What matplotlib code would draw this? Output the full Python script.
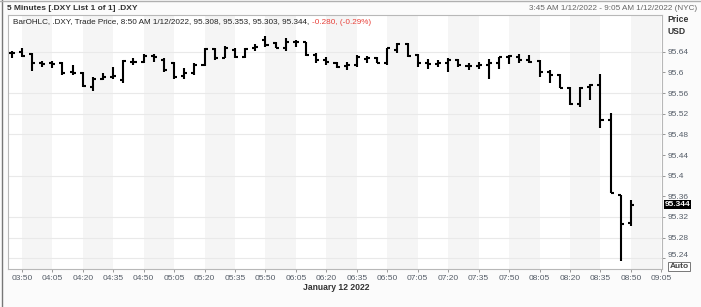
import matplotlib
matplotlib.use('Agg')
import matplotlib.pyplot as plt
import matplotlib.dates as mdates
import matplotlib.transforms as mtransforms
from matplotlib.lines import Line2D
import pandas as pd

# ---------------- data ----------------
start_time = '2022-01-12 03:45'
bar_minutes = 5
opens = [95.637, 95.640, 95.635, 95.618, 95.618, 95.618, 95.601, 95.599, 95.571, 95.588,
         95.592, 95.585, 95.621, 95.621, 95.632, 95.624, 95.618, 95.593, 95.598, 95.614,
         95.645, 95.627, 95.643, 95.630, 95.648, 95.663, 95.656, 95.647, 95.659, 95.658,
         95.634, 95.624, 95.618, 95.612, 95.614, 95.625, 95.627, 95.618, 95.643, 95.655,
         95.634, 95.618, 95.617, 95.618, 95.624, 95.612, 95.612, 95.614, 95.619, 95.629,
         95.630, 95.624, 95.622, 95.601, 95.594, 95.570, 95.538, 95.572, 95.576, 95.508,
         95.363, 95.308]
highs = [95.642, 95.647, 95.637, 95.623, 95.623, 95.621, 95.614, 95.601, 95.592, 95.598,
         95.610, 95.624, 95.627, 95.636, 95.636, 95.627, 95.621, 95.608, 95.618, 95.647,
         95.648, 95.651, 95.647, 95.647, 95.655, 95.670, 95.659, 95.666, 95.663, 95.659,
         95.637, 95.630, 95.621, 95.621, 95.634, 95.632, 95.630, 95.648, 95.656, 95.656,
         95.636, 95.625, 95.624, 95.627, 95.625, 95.619, 95.621, 95.625, 95.630, 95.634,
         95.635, 95.634, 95.624, 95.605, 95.596, 95.572, 95.572, 95.577, 95.596, 95.521,
         95.363, 95.353]
lows = [95.627, 95.629, 95.603, 95.611, 95.608, 95.595, 95.595, 95.572, 95.563, 95.585,
        95.587, 95.579, 95.614, 95.618, 95.621, 95.601, 95.588, 95.588, 95.595, 95.612,
        95.624, 95.627, 95.627, 95.627, 95.642, 95.650, 95.647, 95.642, 95.650, 95.632,
        95.618, 95.614, 95.608, 95.605, 95.610, 95.619, 95.619, 95.614, 95.637, 95.630,
        95.610, 95.606, 95.610, 95.601, 95.611, 95.605, 95.606, 95.588, 95.606, 95.617,
        95.618, 95.618, 95.592, 95.579, 95.569, 95.537, 95.532, 95.546, 95.492, 95.366,
        95.235, 95.303]
closes = [95.637, 95.632, 95.618, 95.617, 95.616, 95.598, 95.599, 95.574, 95.588, 95.592,
          95.593, 95.622, 95.621, 95.632, 95.630, 95.605, 95.592, 95.598, 95.614, 95.645,
          95.627, 95.647, 95.630, 95.645, 95.650, 95.653, 95.648, 95.659, 95.658, 95.634,
          95.624, 95.621, 95.611, 95.614, 95.629, 95.627, 95.619, 95.647, 95.655, 95.632,
          95.618, 95.617, 95.618, 95.624, 95.614, 95.612, 95.614, 95.619, 95.629, 95.631,
          95.624, 95.621, 95.601, 95.595, 95.570, 95.538, 95.569, 95.576, 95.508, 95.366,
          95.306, 95.344]
y_ticks = [95.24, 95.28, 95.32, 95.36, 95.40, 95.44, 95.48, 95.52, 95.56, 95.60, 95.64]
grid_levels = [95.24, 95.28, 95.32, 95.40, 95.48, 95.52, 95.56, 95.64]
title_text = '5 Minutes [.DXY List 1 of 1] .DXY'
range_text = '3:45 AM 1/12/2022 - 9:05 AM 1/12/2022 (NYC)'
legend_text = 'BarOHLC, .DXY, Trade Price, 8:50 AM 1/12/2022, 95.308, 95.353, 95.303, 95.344, '
change_text = '-0.280, (-0.29%)'
date_label = 'January 12 2022'

# ---------------- figure ----------------
W, H = 701, 307
fig = plt.figure(figsize=(W / 100, H / 100), dpi=100)
fig.patch.set_facecolor('#fbfbfb')
FONT = ['Liberation Sans', 'DejaVu Sans']
plt.rcParams['font.family'] = FONT

def px(x, y):
    return x / W, 1 - y / H

ax_l, ax_r, ax_t, ax_b = 8, 662, 15, 269
ax = fig.add_axes([ax_l / W, 1 - ax_b / H, (ax_r - ax_l) / W, (ax_b - ax_t) / H])
ax.set_facecolor('white')

times = pd.date_range(start_time, periods=len(opens), freq=f'{bar_minutes}min')
xt = mdates.date2num(times.to_pydatetime())
one_min = 1 / 1440.0
t0 = xt[0]
ax.set_xlim(t0 - 1.8 * one_min, t0 + 320.3 * one_min)
ax.set_ylim(95.2193, 95.7111)

# alternating bands every 15 min starting 03:50
band_start = mdates.date2num(pd.Timestamp('2022-01-12 03:50').to_pydatetime())
b = band_start
while b < t0 + 330 * one_min:
    ax.axvspan(b, b + 15 * one_min, color='#f5f5f5', lw=0, zorder=0)
    b += 30 * one_min
for g in grid_levels:
    ax.axhline(g, color='#e9e9e9', lw=0.8, zorder=0.5)

# OHLC bars
tick_w = 1.5 * one_min
lw = 1.5
ax.vlines(xt, lows, highs, color='black', lw=lw, zorder=3, capstyle='butt')
ax.hlines(opens, xt - tick_w, xt, color='black', lw=lw, zorder=3)
ax.hlines(closes, xt, xt + tick_w, color='black', lw=lw, zorder=3)

# axes styling
for s in ax.spines.values():
    s.set_color('#b8b8b8')
    s.set_linewidth(0.8)
ax.yaxis.tick_right()
ax.set_yticks(y_ticks)
ax.set_yticklabels([f'{v:g}' for v in y_ticks])
ax.tick_params(axis='y', length=2.5, width=0.6, color='#888888', pad=1.5,
               labelsize=6, labelcolor='#555d68')
ax.xaxis.set_major_locator(mdates.MinuteLocator(byminute=[5, 20, 35, 50]))
ax.xaxis.set_major_formatter(mdates.DateFormatter('%H:%M'))
ax.tick_params(axis='x', length=2.5, width=0.6, color='#888888', pad=1.5,
               labelsize=6, labelcolor='#555d68')
# lowest price label is nudged up to clear the "Auto" button
lowest_lbl = ax.get_yticklabels()[0]
lowest_lbl.set_transform(lowest_lbl.get_transform() +
                         mtransforms.ScaledTranslation(0, 4 / 100, fig.dpi_scale_trans))

# last price marker
ax.text(1.004, closes[-1], f'{closes[-1]:.3f}', transform=ax.get_yaxis_transform(),
        ha='left', va='center', fontsize=6, fontweight='bold', color='white',
        bbox=dict(boxstyle='square,pad=0.12', fc='black', ec='none'), zorder=10, clip_on=False)

# header texts
fig.text(*px(7, 8), title_text, ha='left', va='center', fontsize=6.0, fontweight='bold', color='#333333')
fig.text(*px(697, 9), range_text, ha='right', va='center', fontsize=5.9, color='#666666')
t1 = fig.text(*px(13, 22), legend_text, ha='left', va='center', fontsize=5.9, color='#222222')
fig.canvas.draw()
bb = t1.get_window_extent(renderer=fig.canvas.get_renderer())
fig.text(bb.x1 / W, 1 - 22 / H, change_text, ha='left', va='center', fontsize=5.9, color='#e8413a')

fig.text(*px(667, 20), 'Price', ha='left', va='center', fontsize=6.2, fontweight='bold', color='#333333')
fig.text(*px(667, 31), 'USD', ha='left', va='center', fontsize=6.2, fontweight='bold', color='#333333')
fig.text(*px(336, 287), date_label, ha='center', va='center', fontsize=6.2, fontweight='bold', color='#333333')
fig.text(*px(679, 266), 'Auto', ha='center', va='center', fontsize=6.0, fontweight='bold', color='#444444',
         bbox=dict(boxstyle='square,pad=0.12', fc='white', ec='#777777', lw=0.7))

# outer borders
fig.add_artist(Line2D([2 / W, 2 / W], [0, 1], color='#777777', lw=1.0, transform=fig.transFigure))
fig.add_artist(Line2D([0, 1], [1 - 1 / H, 1 - 1 / H], color='#b0b0b0', lw=1.0, transform=fig.transFigure))

fig.savefig('out.png', dpi=100, facecolor=fig.get_facecolor())
